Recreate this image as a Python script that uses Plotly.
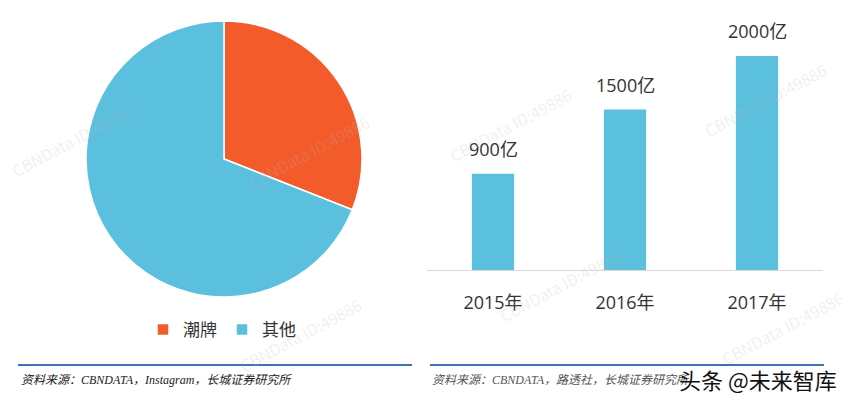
import plotly.graph_objects as go

# ---- data ----
pie_labels = ["潮牌", "其他"]
pie_values = [31, 69]
pie_colors = ["#F45B2B", "#5BC0DE"]

bar_years = ["2015年", "2016年", "2017年"]
bar_values = [900, 1500, 2000]
bar_texts = ["900亿", "1500亿", "2000亿"]

source_left = "资料来源：CBNDATA，Instagram，长城证券研究所"
source_right = "资料来源：CBNDATA，路透社，长城证券研究所"
brand = "头条 @未来智库"
wm_text = "CBNData ID:49886"

# page body has an 8px margin; figure sized so it fits the 850x402 window
OFF = 8
W, H = 842, 394


def fx(px):
    return (px - OFF) / W


def fy(py):
    return 1 - (py - OFF) / H


FONT = "Noto Sans CJK SC, Noto Sans, sans-serif"
NUMFONT = "Open Sans, Noto Sans CJK SC, sans-serif"

fig = go.Figure()

fig.add_trace(go.Pie(
    labels=pie_labels, values=pie_values, sort=False, direction="clockwise",
    rotation=0, textinfo="none", hoverinfo="label+percent",
    marker=dict(colors=pie_colors, line=dict(color="white", width=1.5)),
    domain=dict(x=[fx(86), fx(362)], y=[fy(297), fy(21)]),
    showlegend=True,
))

fig.add_trace(go.Bar(
    x=bar_years, y=bar_values, marker=dict(color="#5BC0DE", line=dict(width=0)),
    xaxis="x", yaxis="y", showlegend=False, width=0.32,
))

# value labels above bars
for yr, v, t in zip(bar_years, bar_values, bar_texts):
    fig.add_annotation(x=yr, y=v, xref="x", yref="y", text=t, showarrow=False,
                       yanchor="bottom", yshift=11,
                       font=dict(family=NUMFONT, size=18, color="#333333"))

# faint watermarks
wm_pos = [(308, 152), (72, 140), (510, 125), (765, 100), (300, 335), (560, 285), (782, 328)]
for (px, py) in wm_pos:
    fig.add_annotation(x=fx(px), y=fy(py), xref="paper", yref="paper",
                       xanchor="center", yanchor="middle",
                       text=wm_text, showarrow=False, textangle=-28,
                       font=dict(family=FONT, size=16, color="rgba(185,185,185,0.22)"))

# source texts
SRCFONT = "Liberation Serif, Noto Sans CJK SC, serif"
fig.add_annotation(x=fx(19), y=fy(380), xref="paper", yref="paper",
                   xanchor="left", yanchor="middle",
                   text="<i>" + source_left + "</i>", showarrow=False,
                   font=dict(family=SRCFONT, size=12, color="#222222"))
fig.add_annotation(x=fx(430), y=fy(380), xref="paper", yref="paper",
                   xanchor="left", yanchor="middle",
                   text="<i>" + source_right + "</i>", showarrow=False,
                   font=dict(family=SRCFONT, size=12, color="#555555"))
fig.add_annotation(x=fx(839), y=fy(379), xref="paper", yref="paper",
                   xanchor="right", yanchor="middle",
                   text=brand, showarrow=False,
                   font=dict(family=FONT, size=22, color="#111111"))

# blue rules
fig.add_shape(type="line", xref="paper", yref="paper", x0=fx(18), x1=fx(412),
              y0=fy(365), y1=fy(365), line=dict(color="#3F6FB5", width=2))
fig.add_shape(type="line", xref="paper", yref="paper", x0=fx(430), x1=fx(824),
              y0=fy(365), y1=fy(365), line=dict(color="#3F6FB5", width=2))

fig.update_layout(
    width=W, height=H, margin=dict(l=0, r=0, t=0, b=0),
    paper_bgcolor="white", plot_bgcolor="white",
    font=dict(family=FONT, color="#333333"),
    xaxis=dict(domain=[fx(427), fx(823)], anchor="y", showgrid=False, zeroline=False,
               showline=True, linecolor="#D9D9D9", linewidth=1, ticks="",
               tickfont=dict(family=NUMFONT, size=18, color="#333333"),
               ticklabelstandoff=16),
    yaxis=dict(domain=[fy(270), fy(13.2)], range=[0, 2400], visible=False,
               showgrid=False, zeroline=False),
    legend=dict(orientation="h", x=fx(222), xanchor="center", y=fy(330), yanchor="middle",
                font=dict(family=FONT, size=17, color="#333333"), itemwidth=30,
                bgcolor="rgba(0,0,0,0)"),
)

fig.write_html("out.html")
